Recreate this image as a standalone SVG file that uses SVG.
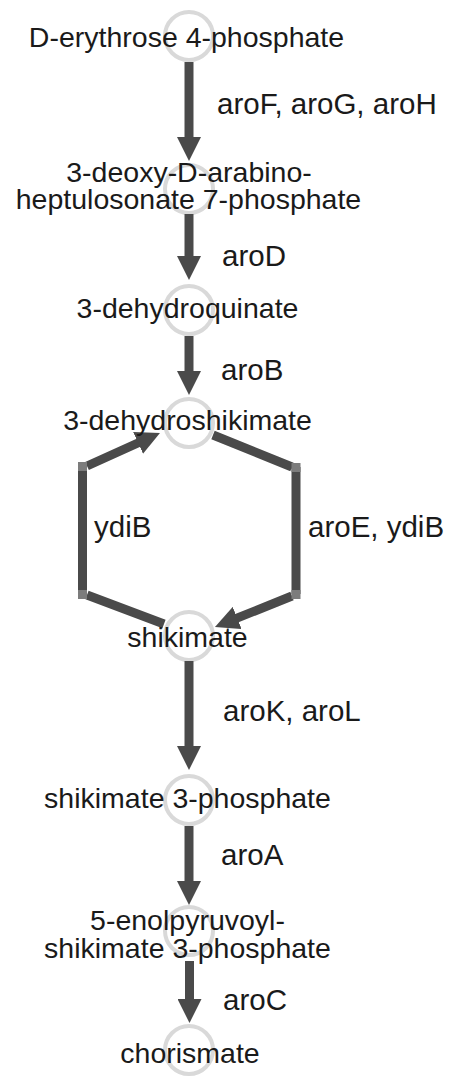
<svg xmlns="http://www.w3.org/2000/svg" width="452" height="1078" viewBox="0 0 452 1078">
  <style>
    .node circle { fill: #ffffff; stroke: #d9d9d9; stroke-width: 4; }
    .node text { font-family: "Liberation Sans", Arial, sans-serif; font-size: 28.5px; fill: #1a1a1a; text-anchor: middle; }
    .edge { fill: none; stroke: #4a4a4a; stroke-width: 9; stroke-linecap: butt; }
    .joint { fill: #7c7c7c; }
    .label { font-family: "Liberation Sans", Arial, sans-serif; font-size: 29.5px; fill: #1a1a1a; }
  </style>
  <defs>
    <marker id="head" markerUnits="userSpaceOnUse" viewBox="0 -12 24 24" markerWidth="24" markerHeight="24" refX="1" refY="0" orient="auto">
      <path d="M0,-12 L24,0 L0,12 z" fill="#4a4a4a"/>
    </marker>
  </defs>

  <rect width="452" height="1078" fill="#ffffff"/>

  <!-- node circles -->
  <g id="n-e4p" class="node"><circle cx="189" cy="36" r="24"/></g>
  <g id="n-dahp" class="node"><circle cx="189" cy="189" r="24"/></g>
  <g id="n-dhq" class="node"><circle cx="189" cy="310" r="24"/></g>
  <g id="n-dhs" class="node"><circle cx="189" cy="423" r="24"/></g>
  <g id="n-shik" class="node"><circle cx="189" cy="636" r="24"/></g>
  <g id="n-s3p" class="node"><circle cx="189" cy="800" r="24"/></g>
  <g id="n-epsp" class="node"><circle cx="189" cy="931" r="24"/></g>
  <g id="n-chor" class="node"><circle cx="189" cy="1050" r="24"/></g>

  <!-- reaction connectors -->
  <g id="connectors">
    <path class="edge" d="M189,62 V138" marker-end="url(#head)"/>
    <path class="edge" d="M189,214 V257" marker-end="url(#head)"/>
    <path class="edge" d="M189,336 V372" marker-end="url(#head)"/>
    <!-- shikimate -> 3-dehydroshikimate (left loop) -->
    <path class="edge" d="M164,624 L87,595 M82.5,594 V467 M87,466 L139,442.5" marker-end="url(#head)"/>
    <!-- 3-dehydroshikimate -> shikimate (right loop) -->
    <path class="edge" d="M213,435 L292,467 M296,467 V594 M292,596 L236.3,618.4" marker-end="url(#head)"/>
    <rect class="joint" x="78" y="462" width="9" height="9"/>
    <rect class="joint" x="78" y="590" width="9" height="9"/>
    <rect class="joint" x="291.5" y="463" width="9" height="9"/>
    <rect class="joint" x="291.5" y="590" width="9" height="9"/>
    <path class="edge" d="M189,661 V747" marker-end="url(#head)"/>
    <path class="edge" d="M189,826 V882" marker-end="url(#head)"/>
    <path class="edge" d="M189.5,961 V1000" marker-end="url(#head)"/>
  </g>

  <!-- enzyme labels -->
  <g id="labels" class="label">
    <text x="217" y="114">aroF, aroG, aroH</text>
    <text x="222" y="266">aroD</text>
    <text x="221" y="380">aroB</text>
    <text x="94" y="537">ydiB</text>
    <text x="308" y="537">aroE, ydiB</text>
    <text x="223" y="721">aroK, aroL</text>
    <text x="221" y="865">aroA</text>
    <text x="223" y="1010">aroC</text>
  </g>

  <!-- metabolite names -->
  <g id="names" class="node">
    <text x="186.5" y="47">D-erythrose 4-phosphate</text>
    <text y="182"><tspan x="189">3-deoxy-D-arabino-</tspan><tspan x="188.5" dy="27">heptulosonate 7-phosphate</tspan></text>
    <text x="187.5" y="318">3-dehydroquinate</text>
    <text x="187.5" y="430">3-dehydroshikimate</text>
    <text x="187.5" y="647">shikimate</text>
    <text x="187.5" y="808">shikimate 3-phosphate</text>
    <text y="930"><tspan x="187.5">5-enolpyruvoyl-</tspan><tspan x="187.5" dy="28">shikimate 3-phosphate</tspan></text>
    <text x="190" y="1063">chorismate</text>
  </g>
</svg>
